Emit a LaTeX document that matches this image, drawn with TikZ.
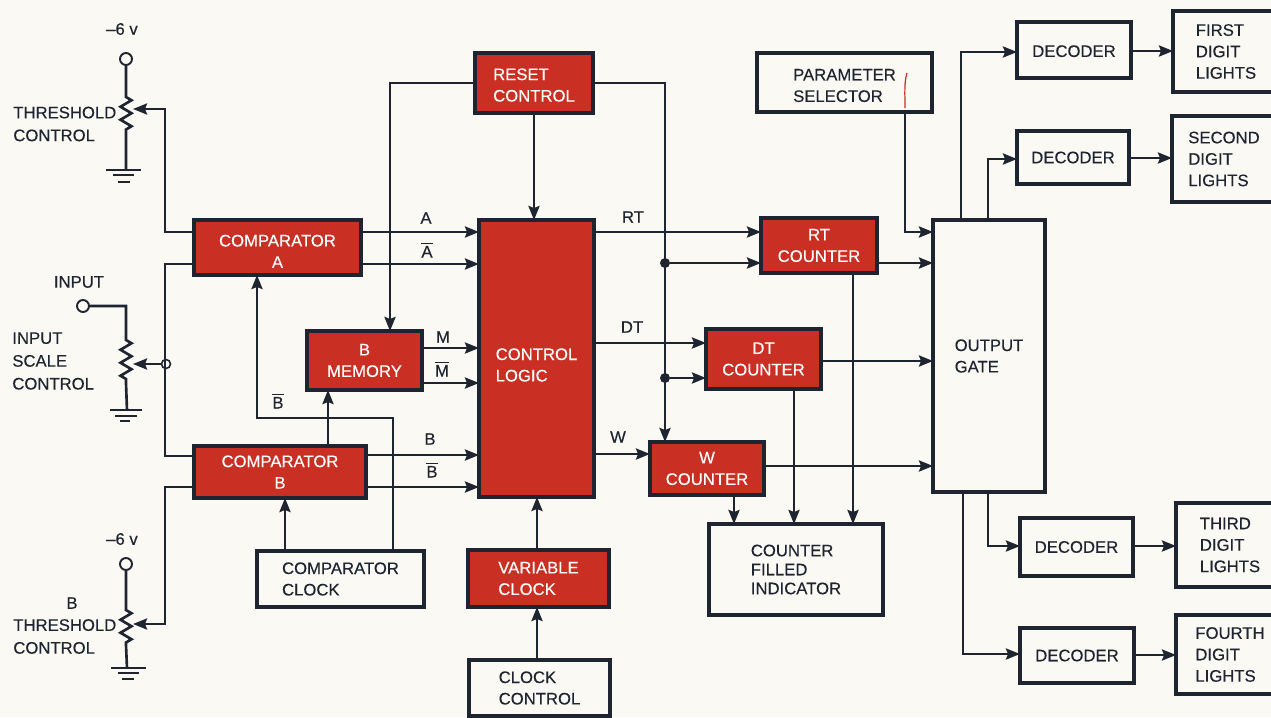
\documentclass[tikz,border=0pt]{standalone}
\usepackage{fontspec}
\setmainfont{Liberation Sans}[FakeBold=0.25]
\usepackage{xcolor}
\usepackage{tikz}
\usetikzlibrary{arrows.meta, decorations.pathmorphing}
\definecolor{paper}{HTML}{FAF9F4}
\definecolor{ink}{HTML}{1E2430}
\definecolor{blockred}{HTML}{C92F22}
\newcommand{\droptext}[1]{\rule{0pt}{#1}}

\begin{document}
\begin{tikzpicture}[
    x=0.02cm, y=-0.02cm,
    redblock/.style={rectangle, draw=ink, fill=blockred, line width=1.8pt, outer sep=0pt,
                  align=center, text=white, font=\fontsize{9.5}{12.2}\selectfont},
    whiteblock/.style={rectangle, draw=ink, fill=paper, line width=1.8pt, outer sep=0pt,
                  align=left, text=ink, font=\fontsize{9.5}{12.2}\selectfont},
    lab/.style={text=ink, inner sep=0pt, align=left, font=\fontsize{9.5}{13}\selectfont},
    wire/.style={ink, line width=1.5pt},
    arr/.style={-{Stealth[length=2.8mm, width=2.2mm, inset=0.4mm]}, ink, line width=1.5pt},
    zig/.style={decoration={zigzag, amplitude=0.11cm, segment length=0.26cm}},
    term/.style={circle, draw=ink, fill=paper, line width=1.1pt, minimum size=0.24cm, inner sep=0pt},
    tap/.style={circle, draw=ink, line width=0.9pt, minimum size=0.18cm, inner sep=0pt},
    dot/.style={circle, fill=ink, minimum size=0.2cm, inner sep=0pt}
]
    \useasboundingbox (0,0) rectangle (1271,717);
    \fill[paper] (0,0) rectangle (1271,717);
    \clip (0,0) rectangle (1271,717);

    % Red blocks
    \node[redblock, minimum width=3.34cm, minimum height=1.1cm] (compa) at (277.5,247.5) {\droptext{11pt}COMPARATOR\\A};
    \node[redblock, minimum width=3.44cm, minimum height=1.04cm] (compb) at (280,472) {COMPARATOR\\B};
    \node[redblock, minimum width=2.3cm, minimum height=1.18cm] (bmem) at (364.5,360.5) {B\\MEMORY};
    \node[redblock, align=left, minimum width=2.36cm, minimum height=1.2cm] (reset) at (534,83) {\droptext{9pt}RESET\\CONTROL};
    \node[redblock, align=left, minimum width=2.3cm, minimum height=5.54cm] (logic) at (536.5,358.5) {\droptext{14pt}CONTROL\\LOGIC};
    \node[redblock, align=left, minimum width=2.82cm, minimum height=1.14cm] (varclk) at (538.5,578.5) {VARIABLE\\CLOCK};
    \node[redblock, minimum width=2.32cm, minimum height=1.1cm] (rtc) at (819,245.5) {RT\\COUNTER};
    \node[redblock, minimum width=2.3cm, minimum height=1.2cm] (dtc) at (763.5,359) {DT\\COUNTER};
    \node[redblock, minimum width=2.28cm, minimum height=1.06cm] (wc) at (707,468.5) {W\\COUNTER};

    % White blocks
    \node[whiteblock, minimum width=3.34cm, minimum height=1.12cm] (compclk) at (340.5,579) {COMPARATOR\\CLOCK};
    \node[whiteblock, minimum width=2.82cm, minimum height=1.12cm] (clkctl) at (539.5,688) {CLOCK\\CONTROL};
    \node[whiteblock, minimum width=3.5cm, minimum height=1.18cm] (param) at (844.5,82.5) {\droptext{10pt}PARAMETER\\SELECTOR};
    \node[whiteblock, font=\fontsize{9.5}{10.8}\selectfont, minimum width=3.48cm, minimum height=1.82cm] (filled) at (796,569.5) {COUNTER\\FILLED\\INDICATOR};
    \node[whiteblock, minimum width=2.24cm, minimum height=5.44cm] (gate) at (989,356) {OUTPUT\\GATE};

    \node[whiteblock, minimum width=2.28cm, minimum height=1.12cm] (dec1) at (1074,50) {\droptext{8pt}DECODER};
    \node[whiteblock, minimum width=2.24cm, minimum height=1.06cm] (dec2) at (1073,157.5) {DECODER};
    \node[whiteblock, minimum width=2.26cm, minimum height=1.16cm] (dec3) at (1076.5,547) {DECODER};
    \node[whiteblock, minimum width=2.28cm, minimum height=1.1cm] (dec4) at (1077,655.5) {DECODER};

    \node[whiteblock, minimum width=2.12cm, minimum height=1.62cm] (light1) at (1226,51.5) {FIRST\\DIGIT\\LIGHTS};
    \node[whiteblock, minimum width=2.08cm, minimum height=1.72cm] (light2) at (1224,159) {SECOND\\DIGIT\\LIGHTS};
    \node[whiteblock, minimum width=2.16cm, minimum height=1.68cm] (light3) at (1230,545) {THIRD\\DIGIT\\LIGHTS};
    \node[whiteblock, minimum width=2.16cm, minimum height=1.58cm] (light4) at (1230,654.5) {FOURTH\\DIGIT\\LIGHTS};

    % Threshold controls
    \node[lab] (sixa) at (122,29) {--6 v};
    \node[term] (ta) at (126,59) {};
    \coordinate (ra) at (126,97);
    \coordinate (rb) at (126,130);
    \coordinate (wa) at (133,109);
    \coordinate (ga) at (126,170);
    \draw[wire] (ta) -- (ra) decorate[zig] {-- (rb)} -- (ga);
    \draw[wire] (106,170) -- (141,170) (113,175) -- (134,175) (118,182) -- (130,182);
    \node[lab, anchor=west] (thra) at (13,124) {THRESHOLD\\CONTROL};

    \node[lab] (inlab) at (79,282) {INPUT};
    \node[term] (tb) at (83,306) {};
    \coordinate (rc) at (126,340);
    \coordinate (rd) at (126,383);
    \coordinate (wb) at (133,364);
    \coordinate (gb) at (127,410);
    \draw[wire] (tb) -| (rc) decorate[zig] {-- (rd)} -- (gb);
    \draw[wire] (110,410) -- (142,410) (115,416) -- (137,416) (120,421) -- (130,421);
    \node[lab, anchor=west] (scale) at (12,361) {INPUT\\SCALE\\CONTROL};
    \node[tap] (junc) at (166,364) {};

    \node[lab] (sixb) at (122,539) {--6 v};
    \node[term] (tc) at (126,564) {};
    \coordinate (re) at (126,610);
    \coordinate (rf) at (126,645);
    \coordinate (wc1) at (133,624);
    \coordinate (gc) at (127,668);
    \draw[wire] (tc) -- (re) decorate[zig] {-- (rf)} -- (gc);
    \draw[wire] (111,668) -- (146,668) (118,673) -- (139,673) (122,679) -- (134,679);
    \node[lab] (blab) at (72,603) {B};
    \node[lab, anchor=west] (thrb) at (13,636.5) {THRESHOLD\\CONTROL};

    \draw[arr] (compa.west |- 0,232) -- ++(-29,0) |- (wa);
    \draw[wire] (compa.west |- 0,264) -- ++(-29,0) |- (compb.west |- 0,456);
    \draw[arr] (junc) -- (wb);
    \draw[arr] (compb.west |- 0,487) -- ++(-29,0) |- (wc1);

    % Into control logic
    \draw[arr] (compa.east |- 0,232) -- (logic.west |- 0,232);
    \draw[arr] (compa.east |- 0,264) -- (logic.west |- 0,264);
    \draw[arr] (bmem.east |- 0,348) -- (logic.west |- 0,348);
    \draw[arr] (bmem.east |- 0,383) -- (logic.west |- 0,383);
    \draw[arr] (compb.east |- 0,455) -- (logic.west |- 0,455);
    \draw[arr] (compb.east |- 0,487) -- (logic.west |- 0,487);
    \node[lab] (la) at (426,218) {A};
    \node[lab] (lan) at (427,250) {$\overline{\mathrm{A}}$};
    \node[lab] (lm) at (443,337) {M};
    \node[lab] (lmn) at (442,369) {$\overline{\mathrm{M}}$};
    \node[lab] (lb) at (430,439) {B};
    \node[lab] (lbn) at (432,470) {$\overline{\mathrm{B}}$};
    \node[lab] (lbm) at (278,401) {$\overline{\mathrm{B}}$};

    % Clocks and reset
    \draw[arr] (compclk.north -| 393,0) -- ++(0,-133) -| (compa.south -| 257,0);
    \draw[arr] (compb.north -| 328,0) -- (bmem.south -| 328,0);
    \draw[arr] (compclk.north -| 285,0) -- (compb.south -| 285,0);
    \draw[arr] (reset.west) -| (bmem.north -| 390,0);
    \draw[arr] (reset) -- (logic.north -| reset);
    \draw[arr] (reset.east) -| (wc.north -| 665,0);
    \draw[arr] (varclk.north -| 537,0) -- (logic.south -| 537,0);
    \draw[arr] (clkctl.north -| 537,0) -- (varclk.south -| 537,0);

    % Counters
    \node[dot] (dota) at (665,263) {};
    \node[dot] (dotb) at (665,378) {};
    \draw[arr] (logic.east |- 0,232) -- (rtc.west |- 0,232);
    \draw[arr] (dota) -- (rtc.west |- dota);
    \draw[arr] (logic.east |- 0,343) -- (dtc.west |- 0,343);
    \draw[arr] (dotb) -- (dtc.west |- dotb);
    \draw[arr] (logic.east |- 0,454) -- (wc.west |- 0,454);
    \node[lab] (lrt) at (633,217) {RT};
    \node[lab] (ldt) at (632,327) {DT};
    \node[lab] (lw) at (618,437) {W};

    \draw[arr] (rtc.east |- 0,263) -- (gate.west |- 0,263);
    \draw[arr] (dtc.east |- 0,361) -- (gate.west |- 0,361);
    \draw[arr] (wc.east |- 0,466) -- (gate.west |- 0,466);
    \draw[arr] (wc.south -| 734,0) -- (filled.north -| 734,0);
    \draw[arr] (dtc.south -| 794,0) -- (filled.north -| 794,0);
    \draw[arr] (rtc.south -| 853,0) -- (filled.north -| 853,0);
    \draw[arr] (param.south -| 905,0) |- (gate.west |- 0,232);
    \draw[blockred, line width=0.7pt] (907,73) .. controls (904,82) and (905,95) .. (905,108);

    % Output side
    \draw[arr] (gate.north -| 961,0) |- (dec1.west |- 0,52);
    \draw[arr] (gate.north -| 988,0) |- (dec2.west |- 0,159);
    \draw[arr] (gate.south -| 988,0) |- (dec3.west |- 0,546);
    \draw[arr] (gate.south -| 963,0) |- (dec4.west |- 0,654);
    \draw[arr] (dec1.east |- 0,51) -- (light1.west |- 0,51);
    \draw[arr] (dec2.east |- 0,158) -- (light2.west |- 0,158);
    \draw[arr] (dec3.east |- 0,546) -- (light3.west |- 0,546);
    \draw[arr] (dec4.east |- 0,655) -- (light4.west |- 0,655);
\end{tikzpicture}
\end{document}
